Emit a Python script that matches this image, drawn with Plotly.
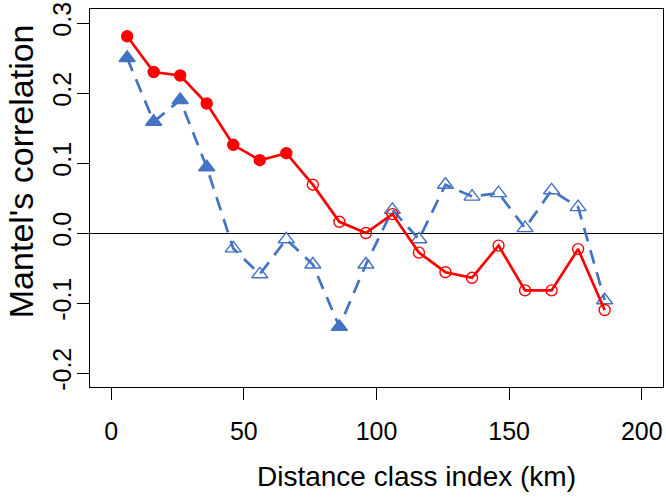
import plotly.graph_objects as go

# ---- data ----
distance_km = [6, 16, 26, 36, 46, 56, 66, 76, 86, 96, 106, 116, 126, 136, 146, 156, 166, 176, 186]
mantel_red = [0.281, 0.230, 0.225, 0.185, 0.126, 0.104, 0.114, 0.069, 0.016, 0.000,
              0.027, -0.028, -0.056, -0.064, -0.018, -0.082, -0.082, -0.023, -0.110]
signif_red = [True, True, True, True, True, True, True, False, False, False,
              False, False, False, False, False, False, False, False, False]
mantel_blue = [0.250, 0.159, 0.190, 0.094, -0.022, -0.059, -0.009, -0.045, -0.134, -0.045,
               0.033, -0.009, 0.069, 0.052, 0.057, 0.007, 0.061, 0.037, -0.096]
signif_blue = [True, True, True, True, False, False, False, False, True, False,
               False, False, False, False, False, False, False, False, False]

x_tickvals = [0, 50, 100, 150, 200]
x_ticktext = ["0", "50", "100", "150", "200"]
y_tickvals = [-0.2, -0.1, 0.0, 0.1, 0.2, 0.3]
y_ticktext = ["-0.2", "-0.1", "0.0", "0.1", "0.2", "0.3"]

RED = "#FF0000"
BLUE = "#4472C4"
FONT = "Liberation Sans, Arial, Helvetica, sans-serif"

fig = go.Figure()

fig.add_trace(go.Scatter(
    x=distance_km, y=mantel_blue, mode="lines+markers",
    line=dict(color=BLUE, width=2.7, dash="14px,9px"),
    marker=dict(
        symbol=["triangle-up" if s else "triangle-up-open" for s in signif_blue],
        size=14, color=BLUE, line=dict(color=BLUE, width=1.4)),
    showlegend=False, cliponaxis=False))

fig.add_trace(go.Scatter(
    x=distance_km, y=mantel_red, mode="lines+markers",
    line=dict(color=RED, width=2.7),
    marker=dict(
        symbol=["circle" if s else "circle-open" for s in signif_red],
        size=11, color=RED, line=dict(color=RED, width=1.4)),
    showlegend=False, cliponaxis=False))

axis_common = dict(
    showline=True, mirror=True, linecolor="black", linewidth=1.3,
    ticks="outside", ticklen=12, tickwidth=1.3, tickcolor="black",
    showgrid=False, ticklabeloverflow="allow",
    tickfont=dict(family=FONT, size=25, color="black"),
)

fig.update_xaxes(range=[-8, 208], tickmode="array", tickvals=x_tickvals,
                 ticktext=x_ticktext, zeroline=False, ticklabelstandoff=10,
                 **axis_common)
fig.update_yaxes(range=[-0.22, 0.32], tickmode="array", tickvals=y_tickvals,
                 ticktext=y_ticktext, tickangle=-90,
                 zeroline=True, zerolinecolor="black", zerolinewidth=1.3,
                 ticklabelstandoff=-4, **axis_common)

fig.add_annotation(text="Distance class index (km)", xref="paper", yref="paper",
                   x=0.5706, y=-0.236, xanchor="center", yanchor="middle",
                   showarrow=False, font=dict(family=FONT, size=28, color="black"))
fig.add_annotation(text="Mantel's correlation", xref="paper", yref="paper",
                   x=-0.121, y=0.570, xanchor="center", yanchor="middle",
                   textangle=-90, showarrow=False,
                   font=dict(family=FONT, size=34, color="black"))

fig.update_layout(
    width=666, height=497,
    margin=dict(l=90, r=2, t=2, b=110),
    paper_bgcolor="white", plot_bgcolor="white",
    font=dict(family=FONT, color="black"),
)

fig.write_html("out.html", config={"displayModeBar": False},
               post_script="document.body.style.margin='0';document.body.style.overflow='hidden';")
